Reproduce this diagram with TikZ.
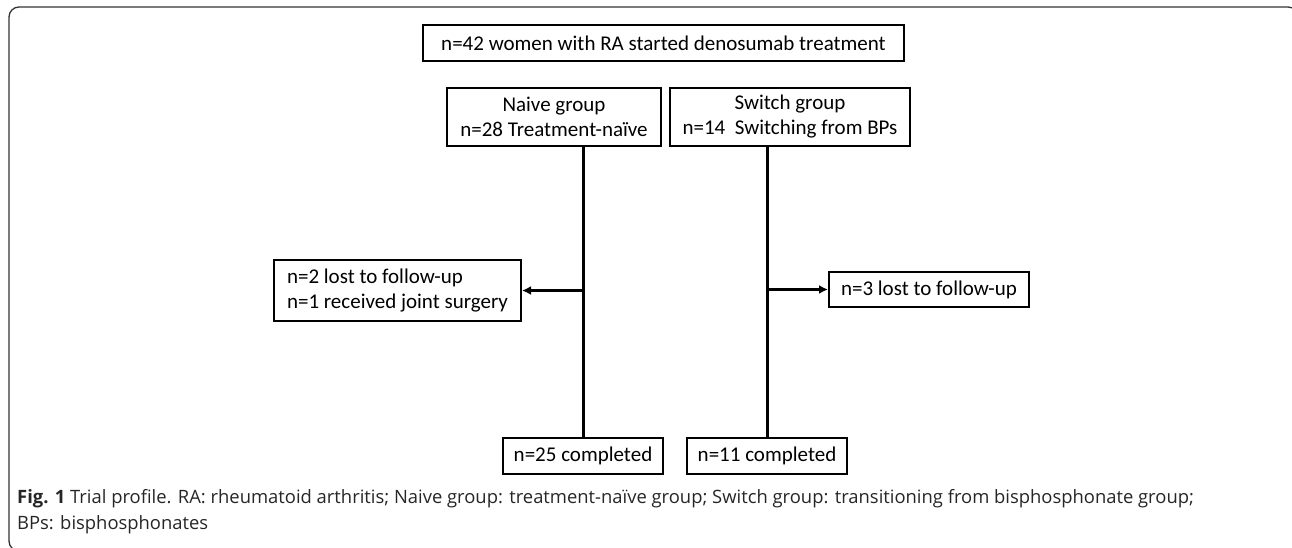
\documentclass[tikz,border=0pt]{standalone}
\usepackage{fontspec}
\setmainfont{Carlito}
\newfontfamily\capfont{Open Sans}
\usetikzlibrary{arrows.meta}

\begin{document}
\begin{tikzpicture}[x=1pt,y=-1pt,
	box/.style={draw, line width=2pt, inner sep=0pt, align=center, font=\fontsize{21}{25}\selectfont},
	link/.style={line width=3pt},
	tip/.style={-{Latex[length=9pt,width=9pt]}}]

	\useasboundingbox (0,0) rectangle (1292,548);

	% frame
	\begin{scope}
		\clip (0,0) rectangle (1292,548);
		\draw[line width=1.3pt, black!80, rounded corners=10pt] (9,7) rectangle (1298,551);
	\end{scope}

	% boxes
	\node[box, minimum width=481, minimum height=36] (all) at (663.5,43) {n=42 women with RA started denosumab treatment};
	\node[box, minimum width=214, minimum height=58] (naive) at (554,117) {Naive group\\n=28 Treatment-naïve};
	\node[box, minimum width=240, minimum height=58] (switch) at (790,117) {Switch group\\n=14\ \ Switching from BPs};
	\node[box, align=left, minimum width=247, minimum height=61] (lostA) at (397.5,290.5) {n=2 lost to follow-up\\n=1 received joint surgery};
	\node[box, minimum width=200, minimum height=35] (lostB) at (929,289.5) {n=3 lost to follow-up};
	\node[box, minimum width=160, minimum height=36] (doneA) at (583,456) {n=25 completed};
	\node[box, minimum width=160, minimum height=36] (doneB) at (767,456) {n=11 completed};

	% down
	\draw[link] (doneA.north |- naive.south) -- (doneA.north);
	\draw[link] (doneB.north |- switch.south) -- (doneB.north);

	% side
	\draw[link, tip] (doneA.north |- lostA.east) -- (lostA.east);
	\draw[link, tip] (doneB.north |- lostB.west) -- (lostB.west);

	% caption
	\node[anchor=north west, align=left, inner sep=0pt, black!85, font=\capfont\fontsize{18.4}{26}\selectfont] (caption) at (17,489)
		{\textbf{Fig. 1} Trial profile. RA: rheumatoid arthritis; Naive group: treatment-naïve group; Switch group: transitioning from bisphosphonate group;\\BPs: bisphosphonates};

\end{tikzpicture}
\end{document}
